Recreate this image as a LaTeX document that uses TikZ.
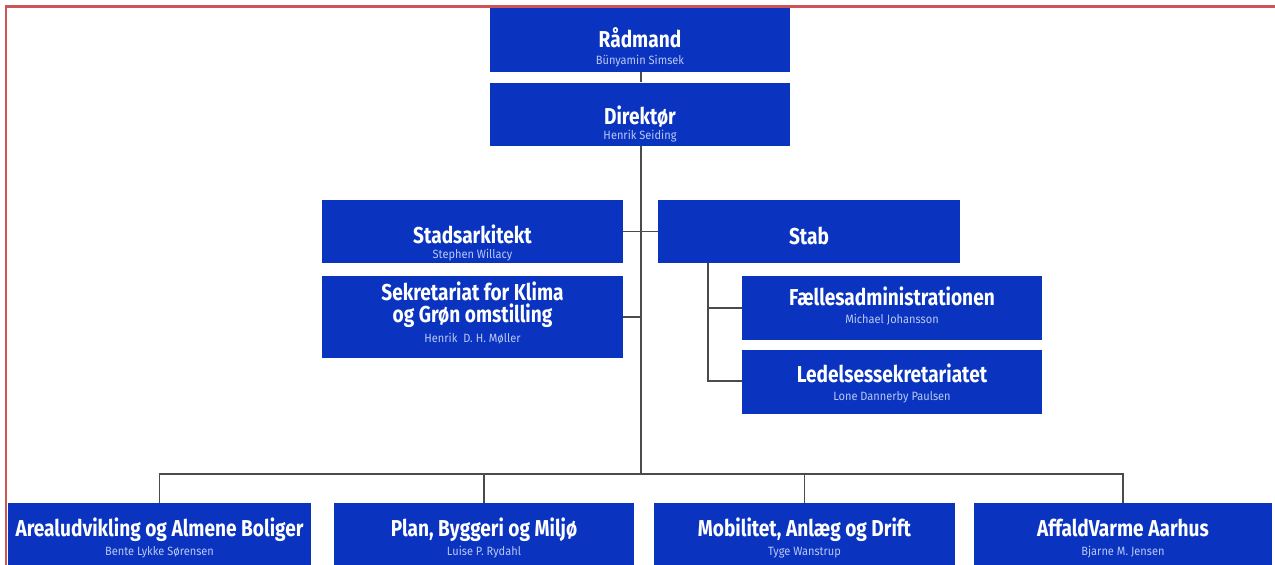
\documentclass[tikz,border=0pt]{standalone}
\usepackage{fontspec}
\setmainfont{Fira Sans}
\newfontfamily\ttlf[FakeStretch=0.83]{Fira Sans}
\newfontfamily\subf[FakeStretch=0.92]{Fira Sans}
\definecolor{aablue}{RGB}{10,52,192}
\definecolor{subtxt}{RGB}{185,200,245}
\definecolor{framered}{RGB}{205,85,85}
\definecolor{conn}{RGB}{75,75,75}
\newcommand\subline[1]{{\subf\mdseries\fontsize{12}{12}\selectfont\color{subtxt}#1}}
\begin{document}
\begin{tikzpicture}[x=1pt,y=-1pt,
  box/.style={rectangle, fill=aablue, inner sep=0pt, minimum width=300pt, minimum height=64pt},
  lbl/.style={anchor=base, inner sep=0pt, align=center, text=white, font=\ttlf\bfseries\fontsize{23}{24}\selectfont},
  link/.style={draw=conn, line width=1.8pt},
  frameline/.style={draw=framered, line width=2.5pt}
]
\useasboundingbox (0,0) rectangle (1275,565);

% boxes
\node[box] (raad) at (640,40) {};
\node[box, minimum height=63pt] (dir) at (640,114) {};
\node[box, minimum width=301pt, minimum height=63pt] (stads) at (472.5,231.5) {};
\node[box, minimum width=301pt, minimum height=82pt] (sekr) at (472.5,317) {};
\node[box, minimum width=302pt, minimum height=63pt] (stab) at (809,231.5) {};
\node[box] (faelles) at (892,308) {};
\node[box] (ledel) at (892,382) {};
\node[box, minimum width=303pt] (areal) at (159.5,535) {};
\node[box] (plan) at (484,535) {};
\node[box, minimum width=301pt] (mob) at (804.5,535) {};
\node[box, minimum width=298pt] (affald) at (1123,535) {};

% texts (anchor base = baseline of the last line)
\node[lbl] (raad-t) at (640,64) {Rådmand\\[-7.5pt]\subline{Bünyamin Simsek}};
\node[lbl] (dir-t) at (640,139) {Direktør\\[-9pt]\subline{Henrik Seiding}};
\node[lbl] (stads-t) at (472.5,258) {Stadsarkitekt\\[-9pt]\subline{Stephen Willacy}};
\node[lbl] (sekr-t) at (472.5,342) {Sekretariat for Klima\\[-2pt]og Grøn omstilling\\[-4pt]\subline{Henrik\ \ D.\ H.\ Møller}};
\node[lbl] (stab-t) at (809,244) {Stab};
\node[lbl] (faelles-t) at (892,323) {Fællesadministrationen\\[-6pt]\subline{Michael Johansson}};
\node[lbl] (ledel-t) at (892,400) {Ledelsessekretariatet\\[-6pt]\subline{Lone Dannerby Paulsen}};
\node[lbl] (areal-t) at (159.5,555) {Arealudvikling og Almene Boliger\\[-5pt]\subline{Bente Lykke Sørensen}};
\node[lbl] (plan-t) at (484,555) {Plan, Byggeri og Miljø\\[-5pt]\subline{Luise P. Rydahl}};
\node[lbl] (mob-t) at (804.5,555) {Mobilitet, Anlæg og Drift\\[-5pt]\subline{Tyge Wanstrup}};
\node[lbl] (affald-t) at (1123,555) {AffaldVarme Aarhus\\[-5pt]\subline{Bjarne M. Jensen}};

% connectors
\coordinate (bus) at (641,474);
\coordinate (sb) at (708,381);
\draw[link] ([xshift=1pt]raad.south) -- ([xshift=1pt]dir.north);
\draw[link] ([xshift=1pt]dir.south) -- (bus);
\draw[link] (stads.east) -- (stab.west);
\draw[link] (sekr.east) -- (sekr.east -| bus);
\draw[link] (stab.south -| sb) -- (sb) -- (ledel.west |- sb);
\draw[link] (faelles.west) -- (faelles.west -| sb);
\draw[link] (areal.north) |- (bus) -| (affald.north);
\draw[link] (plan.north) -- (plan.north |- bus);
\draw[link] (mob.north) -- (mob.north |- bus);

% frame
\coordinate (ftl) at (6,6.5);
\coordinate (ftr) at (1275,6.5);
\coordinate (fbl) at (6,565);
\draw[frameline] (fbl) -- (ftl) -- (ftr);
\end{tikzpicture}
\end{document}
